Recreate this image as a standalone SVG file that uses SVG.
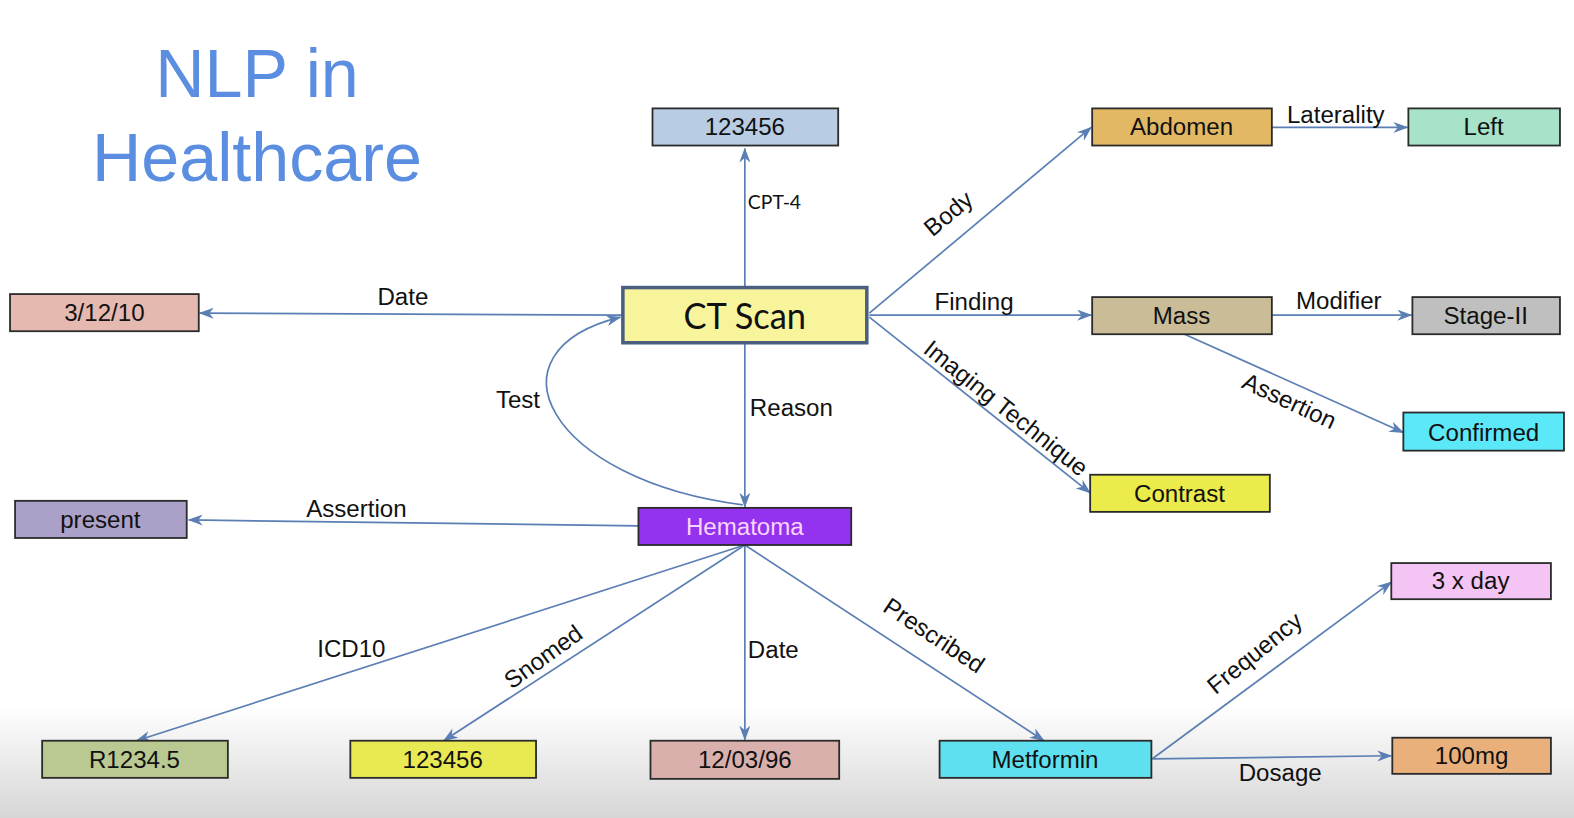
<svg xmlns="http://www.w3.org/2000/svg" width="1574" height="818" viewBox="0 0 1574 818">
<defs>
<linearGradient id="bg" x1="0" y1="0" x2="0" y2="1">
<stop offset="0" stop-color="#ffffff"/>
<stop offset="1" stop-color="#d6d6d6"/>
</linearGradient>
<marker id="arr" markerUnits="userSpaceOnUse" markerWidth="15" markerHeight="11" refX="14" refY="5.5" orient="auto" viewBox="0 0 15 11">
<path d="M0,0 L15,5.5 L0,11 L4.5,5.5 z" fill="#5b7fb4"/>
</marker>
<style>
.n rect{stroke:#2b2b2b;stroke-width:1.8}
.n text{font-family:"Liberation Sans",Arial,sans-serif;font-size:24px;fill:#111;text-anchor:middle}
.e path,.e line{stroke:#5b7fb4;stroke-width:1.7;fill:none;marker-end:url(#arr)}
.lbl{font-family:"Liberation Sans",Arial,sans-serif;font-size:24px;fill:#111}
.cal{font-family:Lato,"Open Sans",sans-serif;fill:#111}
.title{font-family:"Liberation Sans",Arial,sans-serif;font-size:68px;fill:#5b8ee0;text-anchor:middle}
</style>
</defs>
<rect x="0" y="0" width="1574" height="818" fill="#ffffff"/>
<rect x="0" y="705" width="1574" height="113" fill="url(#bg)"/>
<g transform="scale(1.00383,1.00368)">
<g id="title">
<text class="title" x="256" y="97">NLP in</text>
<text class="title" x="256" y="180">Healthcare</text>
</g>
<g id="connectors" class="e">
<line x1="742" y1="286" x2="742" y2="148"/>
<line x1="620" y1="314" x2="199" y2="312"/>
<line x1="742" y1="342" x2="742" y2="505"/>
<path d="M740,503 C545,478 480,350 618,316"/>
<line x1="866" y1="312" x2="1087" y2="127"/>
<line x1="866" y1="314" x2="1087" y2="314"/>
<line x1="866" y1="316" x2="1086" y2="491"/>
<line x1="1267" y1="127" x2="1402" y2="127"/>
<line x1="1267" y1="314" x2="1406" y2="314"/>
<line x1="1180" y1="333" x2="1398" y2="431"/>
<line x1="636" y1="524" x2="188" y2="518"/>
<line x1="742" y1="543" x2="136" y2="738"/>
<line x1="742" y1="543" x2="442" y2="738"/>
<line x1="742" y1="543" x2="742" y2="737"/>
<line x1="742" y1="543" x2="1040" y2="738"/>
<line x1="1148" y1="756" x2="1386" y2="580"/>
<line x1="1148" y1="756" x2="1386" y2="753"/>
</g>
<g id="edge-labels">
<text class="cal" x="745" y="208" font-size="20" textLength="53" lengthAdjust="spacingAndGlyphs">CPT-4</text>
<text class="lbl" x="376" y="304">Date</text>
<text class="lbl" x="747" y="414">Reason</text>
<text class="lbl" x="494" y="407">Test</text>
<text class="lbl" x="931" y="309">Finding</text>
<text class="lbl" x="1282" y="123">Laterality</text>
<text class="lbl" x="1291" y="308">Modifier</text>
<text class="lbl" x="305" y="515">Assertion</text>
<text class="lbl" x="316" y="655">ICD10</text>
<text class="lbl" x="745" y="656">Date</text>
<text class="lbl" x="1234" y="778">Dosage</text>
<text class="lbl" text-anchor="middle" transform="translate(950,219) rotate(-40)">Body</text>
<text class="lbl" text-anchor="middle" transform="translate(997,413) rotate(38.5)">Imaging Technique</text>
<text class="lbl" text-anchor="middle" transform="translate(1281,407) rotate(25)">Assertion</text>
<text class="lbl" text-anchor="middle" transform="translate(546,661) rotate(-36)">Snomed</text>
<text class="lbl" text-anchor="middle" transform="translate(926,640) rotate(33.5)">Prescribed</text>
<text class="lbl" text-anchor="middle" transform="translate(1255,657) rotate(-39)">Frequency</text>
</g>
<g id="n-cpt" class="n"><rect x="650" y="108" width="185" height="37" fill="#b8cce4"/><text x="742" y="135">123456</text></g>
<g id="n-ctscan"><rect x="620.5" y="286.5" width="243" height="55" fill="#f8f49c" stroke="#4a5f80" stroke-width="3.5"/><text class="cal" x="742" y="328" font-size="36" text-anchor="middle" textLength="122" lengthAdjust="spacingAndGlyphs">CT Scan</text></g>
<g id="n-date1" class="n"><rect x="10" y="293" width="188" height="37" fill="#e6b9b0"/><text x="104" y="320">3/12/10</text></g>
<g id="n-abdomen" class="n"><rect x="1088" y="108" width="179" height="37" fill="#e2b865"/><text x="1177" y="135">Abdomen</text></g>
<g id="n-left" class="n"><rect x="1403" y="108" width="151" height="37" fill="#a6e3c9"/><text x="1478" y="135">Left</text></g>
<g id="n-mass" class="n"><rect x="1088" y="296" width="179" height="37" fill="#c9bc97"/><text x="1177" y="323">Mass</text></g>
<g id="n-stage" class="n"><rect x="1407" y="296" width="147" height="37" fill="#bfbfbf"/><text x="1480" y="323">Stage-II</text></g>
<g id="n-confirmed" class="n"><rect x="1398" y="411" width="160" height="38" fill="#5be8f8"/><text x="1478" y="439">Confirmed</text></g>
<g id="n-contrast" class="n"><rect x="1086" y="473" width="179" height="37" fill="#ebeb4b"/><text x="1175" y="500">Contrast</text></g>
<g id="n-present" class="n"><rect x="15" y="499" width="171" height="37" fill="#aba0c8"/><text x="100" y="526">present</text></g>
<g id="n-hematoma" class="n"><rect x="636" y="506" width="212" height="37" fill="#9333f0"/><text x="742" y="533" style="fill:#fad4fa">Hematoma</text></g>
<g id="n-icd" class="n"><rect x="42" y="738" width="185" height="37" fill="#bac991"/><text x="134" y="765">R1234.5</text></g>
<g id="n-snomed" class="n"><rect x="349" y="738" width="185" height="37" fill="#e9e953"/><text x="441" y="765">123456</text></g>
<g id="n-date2" class="n"><rect x="648" y="738" width="188" height="38" fill="#d9b0ac"/><text x="742" y="765">12/03/96</text></g>
<g id="n-metformin" class="n"><rect x="936" y="738" width="211" height="37" fill="#5fe0f0"/><text x="1041" y="765">Metformin</text></g>
<g id="n-freq" class="n"><rect x="1386" y="561" width="159" height="36" fill="#f4c4f4"/><text x="1465" y="587">3 x day</text></g>
<g id="n-dose" class="n"><rect x="1387" y="735" width="158" height="36" fill="#e9b07c"/><text x="1466" y="761">100mg</text></g>
</g>
</svg>
